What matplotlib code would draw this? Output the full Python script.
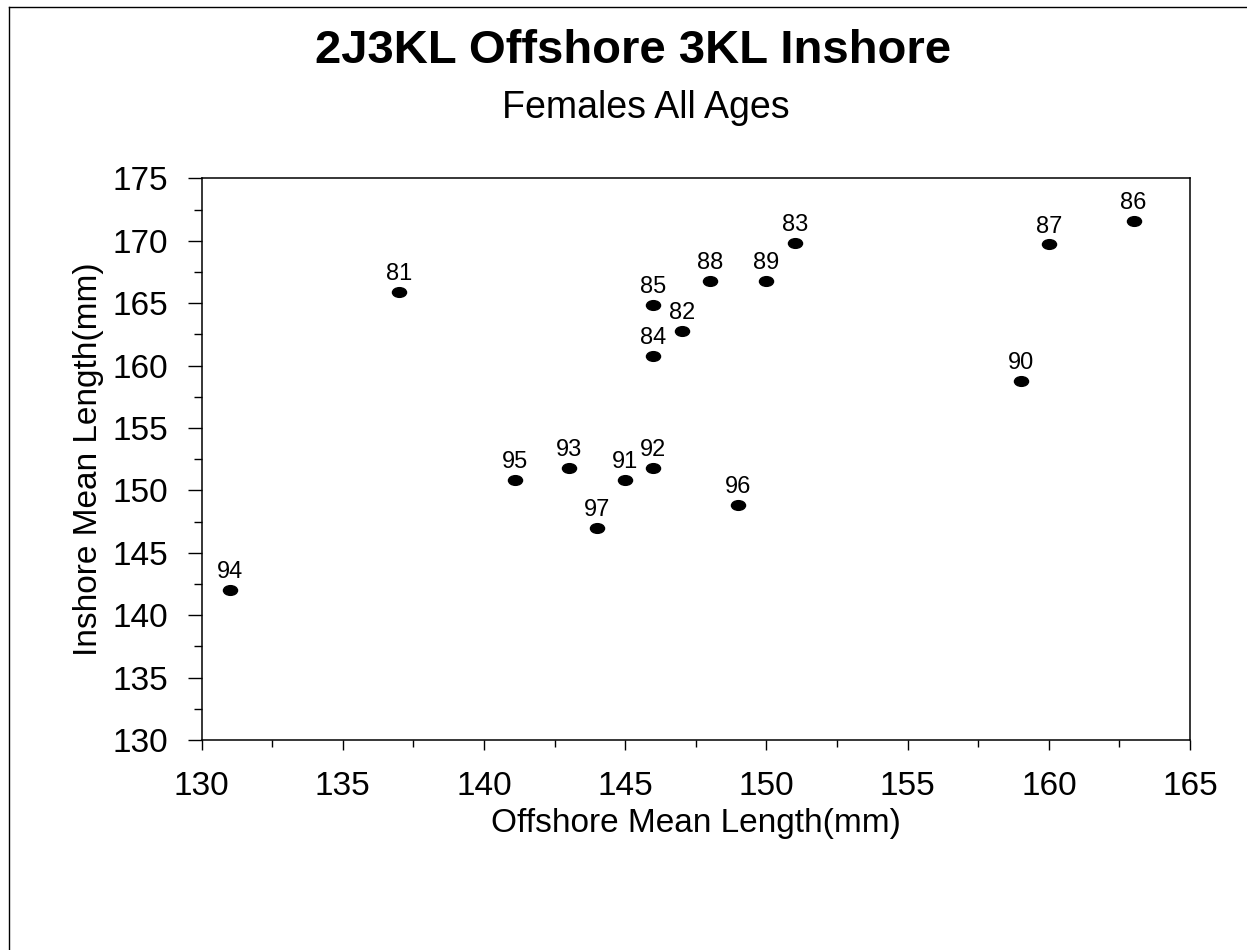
import matplotlib
matplotlib.use("Agg")
import matplotlib.pyplot as plt
from matplotlib.markers import MarkerStyle
from matplotlib.transforms import Affine2D
from matplotlib.lines import Line2D
from matplotlib.ticker import MultipleLocator

plt.rcParams['font.family'] = ['Liberation Sans', 'DejaVu Sans']

# year labels with offshore / inshore mean lengths (mm)
years = ['81', '82', '83', '84', '85', '86', '87', '88', '89',
         '90', '91', '92', '93', '94', '95', '96', '97']
offshore = [137, 147, 151, 146, 146, 163, 160, 148, 150,
            159, 145, 146, 143, 131, 141.1, 149, 144]
inshore = [165.9, 162.8, 169.8, 160.8, 164.85, 171.6, 169.7, 166.8, 166.8,
           158.8, 150.8, 151.8, 151.8, 142, 150.8, 148.8, 147]

fig = plt.figure(figsize=(12.47, 9.5), dpi=100)
ax = fig.add_axes([0.1617, 0.2211, 0.7926, 0.5912])

# flattened dot like the original
dot = MarkerStyle('o', transform=Affine2D().scale(1.45, 1.0))
ax.plot(offshore, inshore, linestyle='none', marker=dot, markersize=7,
        color='black')
for lab, x, y in zip(years, offshore, inshore):
    ax.annotate(lab, (x, y), xytext=(0, 5), textcoords='offset points',
                ha='center', va='bottom', fontsize=17)

ax.set_xlim(130, 165)
ax.set_ylim(130, 175)
ax.xaxis.set_major_locator(MultipleLocator(5))
ax.xaxis.set_minor_locator(MultipleLocator(2.5))
ax.yaxis.set_major_locator(MultipleLocator(5))
ax.yaxis.set_minor_locator(MultipleLocator(2.5))
ax.tick_params(axis='x', which='major', direction='out', length=7, width=1,
               labelsize=24, pad=15)
ax.tick_params(axis='x', which='minor', direction='out', length=5, width=1)
ax.tick_params(axis='y', which='major', direction='out', length=10, width=1,
               labelsize=24, pad=14)
ax.tick_params(axis='y', which='minor', direction='out', length=6, width=1)
for s in ax.spines.values():
    s.set_linewidth(1.1)

ax.set_xlabel('Offshore Mean Length(mm)', fontsize=24, labelpad=5)
ax.set_ylabel('Inshore Mean Length(mm)', fontsize=24, labelpad=6)

fig.text(0.508, 0.946, '2J3KL Offshore 3KL Inshore', ha='center', va='center',
         fontsize=34, fontweight='bold')
fig.text(0.518, 0.886, 'Females All Ages', ha='center', va='center',
         fontsize=27)

# page frame (left and top edges)
fig.add_artist(Line2D([0.0072, 0.0072], [0.0, 0.9926], transform=fig.transFigure,
                      color='black', linewidth=1))
fig.add_artist(Line2D([0.0072, 1.0], [0.9926, 0.9926], transform=fig.transFigure,
                      color='black', linewidth=1))

fig.savefig('out.png', dpi=100)
